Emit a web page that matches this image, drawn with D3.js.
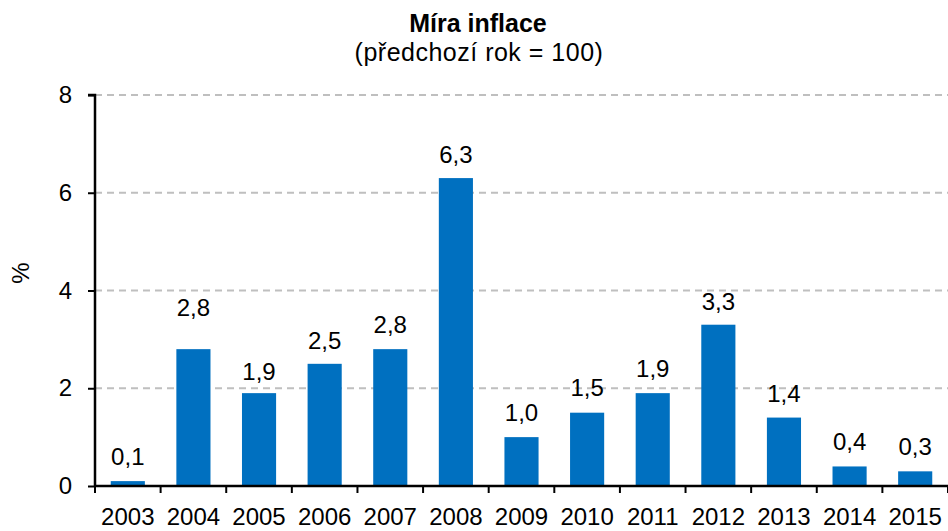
<!DOCTYPE html>
<html>
<head>
<meta charset="utf-8">
<script src="https://cdn.jsdelivr.net/npm/d3@7"></script>
<style>
  body { margin: 0; background: #fff; }
  svg { display: block; font-family: "Liberation Sans", Arial, sans-serif; }
</style>
</head>
<body>
<div id="chart"></div>
<script>
const years = ['2003', '2004', '2005', '2006', '2007', '2008', '2009', '2010', '2011', '2012', '2013', '2014', '2015'];
const inflation = [0.1, 2.8, 1.9, 2.5, 2.8, 6.3, 1.0, 1.5, 1.9, 3.3, 1.4, 0.4, 0.3];
const yTicks = [0, 2, 4, 6, 8];
// label gap above bar top (px); the 2004 label sits higher in the original
const labelLift = [16, 33, 13, 15, 16, 15, 16, 17, 16, 15, 16, 16, 16];

const width = 948, height = 531;
const margin = { top: 95, right: 0, bottom: 45, left: 95 };
const plotW = 853;
const plotH = height - margin.top - margin.bottom;

const svg = d3.select('#chart')
  .append('svg')
  .attr('width', width)
  .attr('height', height);

// title
svg.append('text')
  .attr('x', 478).attr('y', 32)
  .attr('text-anchor', 'middle')
  .style('font-size', '25px')
  .style('font-weight', 'bold')
  .text('Míra inflace');
svg.append('text')
  .attr('x', 479).attr('y', 61)
  .attr('text-anchor', 'middle')
  .style('font-size', '25px')
  .style('letter-spacing', '0.5px')
  .text('(předchozí rok = 100)');

const g = svg.append('g')
  .attr('transform', `translate(${margin.left},${margin.top})`);

const x = d3.scaleBand()
  .domain(years)
  .range([0, plotW])
  .paddingInner(0.48)
  .paddingOuter(0.24);

const y = d3.scaleLinear()
  .domain([0, 8])
  .range([plotH, 0]);

// gridlines
g.selectAll('.grid')
  .data(yTicks.filter(d => d > 0))
  .enter()
  .append('line')
  .attr('x1', 0).attr('x2', plotW)
  .attr('y1', d => y(d)).attr('y2', d => y(d))
  .attr('stroke', '#bfbfbf')
  .attr('stroke-width', 2)
  .attr('stroke-dasharray', '7,5');

// bars
g.selectAll('.bar')
  .data(inflation)
  .enter()
  .append('rect')
  .attr('x', (d, i) => x(years[i]))
  .attr('width', x.bandwidth())
  .attr('y', d => y(d))
  .attr('height', d => plotH - y(d))
  .attr('fill', '#0070c0');

// value labels
g.selectAll('.lbl')
  .data(inflation)
  .enter()
  .append('text')
  .attr('x', (d, i) => x(years[i]) + x.bandwidth() / 2)
  .attr('y', (d, i) => y(d) - labelLift[i])
  .attr('text-anchor', 'middle')
  .style('font-size', '24px')
  .text(d => d.toFixed(1).replace('.', ','));

// y axis
const yAxis = g.append('g')
  .call(d3.axisLeft(y).tickValues(yTicks).tickSize(7).tickPadding(16));
yAxis.select('.domain').attr('stroke-width', 2.5).attr('d', `M-7,0H0V${plotH}`);
yAxis.selectAll('.tick line').attr('stroke-width', 2);
yAxis.selectAll('.tick text').style('font-size', '24px').attr('fill', '#000');

// x axis: ticks on band boundaries
const xAxisG = g.append('g').attr('transform', `translate(0,${plotH})`);
xAxisG.append('line')
  .attr('x1', 0).attr('x2', plotW)
  .attr('stroke', '#000').attr('stroke-width', 2.5);
const step = x.step();
xAxisG.selectAll('.xt')
  .data(d3.range(years.length + 1))
  .enter()
  .append('line')
  .attr('x1', i => i * step).attr('x2', i => i * step)
  .attr('y1', 0).attr('y2', 7)
  .attr('stroke', '#000').attr('stroke-width', 2);
xAxisG.selectAll('.xl')
  .data(years)
  .enter()
  .append('text')
  .attr('x', d => x(d) + x.bandwidth() / 2)
  .attr('y', 39)
  .attr('text-anchor', 'middle')
  .style('font-size', '24px')
  .text(d => d);

// y label
svg.append('text')
  .attr('transform', 'translate(29,273) rotate(-90)')
  .attr('text-anchor', 'middle')
  .style('font-size', '24px')
  .text('%');
</script>
</body>
</html>
